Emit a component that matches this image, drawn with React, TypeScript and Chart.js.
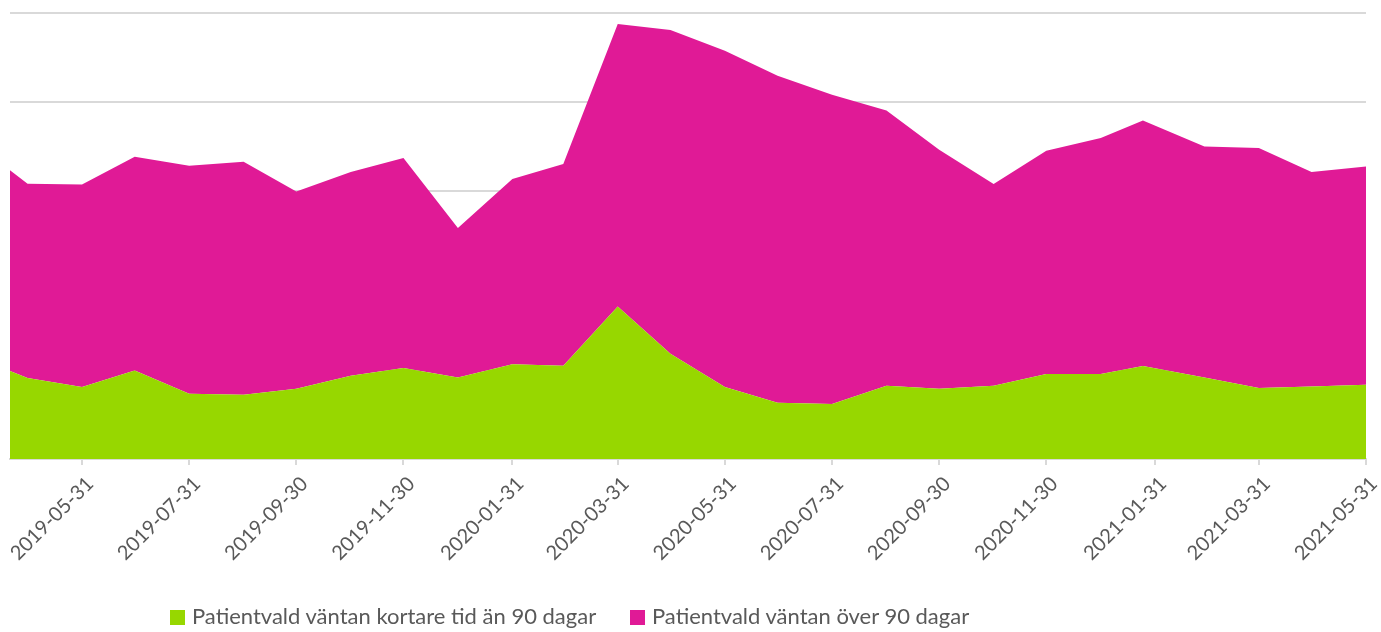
import React, { useEffect, useRef } from "react";
import { Chart, registerables } from "chart.js";

Chart.register(...registerables);

// Dates of the data points (month ends; the January 2021 reading sits a week early)
const DATES = [
  "2019-03-31", "2019-04-30", "2019-05-31", "2019-06-30", "2019-07-31", "2019-08-31",
  "2019-09-30", "2019-10-31", "2019-11-30", "2019-12-31", "2020-01-31", "2020-02-29",
  "2020-03-31", "2020-04-30", "2020-05-31", "2020-06-30", "2020-07-31", "2020-08-31",
  "2020-09-30", "2020-10-31", "2020-11-30", "2020-12-31", "2021-01-24", "2021-02-28",
  "2021-03-31", "2021-04-30", "2021-05-31",
];

// Patientvald väntan kortare tid än 90 dagar
const SHORT_WAIT = [
  1144, 908, 807, 993, 732, 721, 788, 934, 1020, 915, 1061, 1046,
  1711, 1181, 807, 631, 617, 822, 788, 822, 953, 953, 1043, 915,
  796, 814, 833,
];

// Patientvald väntan över 90 dagar
const LONG_WAIT = [
  2394, 2178, 2271, 2396, 2556, 2612, 2212, 2283, 2354, 1675, 2078, 2261,
  3166, 3628, 3770, 3666, 3467, 3086, 2680, 2261, 2503, 2646, 2753, 2589,
  2691, 2403, 2447,
];

const TICK_LABELS = [
  "2019-05-31", "2019-07-31", "2019-09-30", "2019-11-30", "2020-01-31", "2020-03-31",
  "2020-05-31", "2020-07-31", "2020-09-30", "2020-11-30", "2021-01-31", "2021-03-31",
  "2021-05-31",
];

const SERIES_NAMES = [
  "Patientvald väntan kortare tid än 90 dagar",
  "Patientvald väntan över 90 dagar",
];

const X_START = "2019-04-20";
const X_END = "2021-05-31";
const Y_MAX = 5000;
const Y_STEP = 1000;

const GREEN = "#97D700";
const MAGENTA = "#E01A96";
const TEXT = "#595959";
const GRID = "#D9D9D9";
const FONT = "Lato, 'Open Sans', sans-serif";

const DAY = 86400000;
const toDays = (s: string) => {
  const [y, m, d] = s.split("-").map(Number);
  return Date.UTC(y, m - 1, d) / DAY;
};

export default function App() {
  const canvasRef = useRef<HTMLCanvasElement | null>(null);

  useEffect(() => {
    const canvas = canvasRef.current;
    if (!canvas) return;
    const chart = new Chart(canvas, {
      type: "line",
      data: {
        datasets: [
          {
            label: SERIES_NAMES[0],
            data: DATES.map((d, i) => ({ x: toDays(d), y: SHORT_WAIT[i] })),
            backgroundColor: GREEN,
            borderColor: GREEN,
            borderWidth: 0,
            pointRadius: 0,
            fill: "origin",
            tension: 0,
          },
          {
            label: SERIES_NAMES[1],
            data: DATES.map((d, i) => ({ x: toDays(d), y: LONG_WAIT[i] })),
            backgroundColor: MAGENTA,
            borderColor: MAGENTA,
            borderWidth: 0,
            pointRadius: 0,
            fill: "-1",
            tension: 0,
          },
        ],
      },
      options: {
        animation: false,
        responsive: false,
        layout: { padding: { left: 10, top: 13, right: 15, bottom: 0 } },
        plugins: {
          legend: { display: false },
          tooltip: { enabled: false },
        },
        scales: {
          x: {
            type: "linear",
            min: toDays(X_START),
            max: toDays(X_END),
            afterBuildTicks: (scale: any) => {
              scale.ticks = TICK_LABELS.map((t) => ({ value: toDays(t) }));
            },
            afterFit: (scale: any) => {
              scale.height = 173;
              scale.paddingLeft = 0;
              scale.paddingRight = 0;
            },
            border: { display: true, color: GRID, width: 2 },
            grid: {
              drawOnChartArea: false,
              drawTicks: true,
              tickLength: 6,
              color: GRID,
              lineWidth: 2,
            },
            ticks: {
              autoSkip: false,
              minRotation: 45,
              maxRotation: 45,
              color: TEXT,
              font: { family: FONT, size: 20 },
              padding: 7,
              labelOffset: 8,
              callback: (_v: any, i: number) => TICK_LABELS[i],
            },
          },
          y: {
            stacked: true,
            min: 0,
            max: Y_MAX,
            afterFit: (scale: any) => {
              scale.width = 0;
            },
            border: { display: false },
            grid: { color: GRID, lineWidth: 2, drawTicks: false },
            ticks: { display: false, stepSize: Y_STEP },
          },
        },
      },
    } as any);
    return () => chart.destroy();
  }, []);

  const legendItem = (name: string, color: string, left: number) => (
    <div
      key={name}
      style={{
        position: "absolute",
        left,
        top: 605,
        display: "flex",
        alignItems: "flex-start",
        fontFamily: FONT,
        fontSize: 22,
        lineHeight: "22px",
        color: TEXT,
        whiteSpace: "nowrap",
      }}
    >
      <span
        style={{
          display: "inline-block",
          width: 15,
          height: 15,
          background: color,
          marginTop: 5,
          marginRight: 7,
        }}
      />
      <span>{name}</span>
    </div>
  );

  return (
    <div
      style={{
        position: "absolute",
        left: 0,
        top: 0,
        width: 1381,
        height: 632,
        background: "#fff",
      }}
    >
      <canvas ref={canvasRef} width={1381} height={632} style={{ display: "block" }} />
      {legendItem(SERIES_NAMES[0], GREEN, 170)}
      {legendItem(SERIES_NAMES[1], MAGENTA, 630)}
    </div>
  );
}
